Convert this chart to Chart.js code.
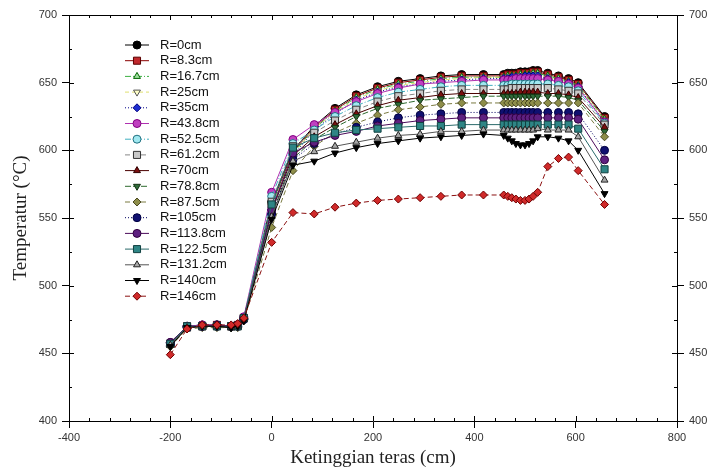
<!DOCTYPE html>
<html>
<head>
<meta charset="utf-8">
<script src="https://cdn.jsdelivr.net/npm/chart.js@4.4.0/dist/chart.umd.min.js"></script>
<style>
  html, body { margin: 0; padding: 0; background: #fff; }
  #wrap { width: 709px; height: 475px; }
</style>
</head>
<body>
<div id="wrap"><canvas id="chart"></canvas></div>
<script>
// core height (cm), shared by all series
const heights = [-200, -167, -137, -108, -80, -67, -55, 0, 42, 84, 125, 167, 209, 250, 293, 334, 375, 418,
  458, 466, 474, 482, 491, 500, 508, 516, 525, 545, 566, 586, 605, 657];

const radiusLabels = ['R=0cm', 'R=8.3cm', 'R=16.7cm', 'R=25cm', 'R=35cm', 'R=43.8cm', 'R=52.5cm', 'R=61.2cm',
  'R=70cm', 'R=78.8cm', 'R=87.5cm', 'R=105cm', 'R=113.8cm', 'R=122.5cm', 'R=131.2cm', 'R=140cm', 'R=146cm'];

// temperature (°C)
const r0 = [458, 470, 471, 471, 470, 471, 476, 562, 600, 618, 631, 641, 647, 651, 653, 655, 656, 656,
  656, 657, 657, 657, 658, 658, 658, 659, 659, 657, 655, 653, 650, 625];
const r8 = [457, 470, 470, 471, 470, 471, 476, 560, 599, 617, 630, 640, 646, 650, 652, 654, 655, 655,
  655, 656, 656, 656, 657, 657, 657, 658, 658, 656, 654, 652, 649, 624];
const r16 = [457, 469, 470, 470, 470, 470, 475, 558, 598, 616, 629, 639, 645, 649, 651, 653, 654, 654,
  654, 655, 655, 655, 656, 656, 656, 657, 657, 655, 653, 651, 648, 623];
const r25 = [456, 469, 470, 470, 469, 470, 475, 557, 597, 616, 628, 638, 644, 648, 650, 652, 653, 654,
  654, 654, 654, 655, 655, 655, 656, 656, 656, 654, 652, 650, 647, 622];
const r35 = [456, 469, 470, 470, 469, 470, 475, 556, 596, 615, 627, 637, 643, 647, 649, 651, 652, 653,
  653, 653, 654, 654, 654, 655, 655, 655, 655, 653, 651, 650, 647, 621];
const r43 = [458, 470, 471, 471, 470, 471, 477, 569, 608, 619, 628, 636, 642, 646, 649, 650, 651, 652,
  652, 652, 652, 653, 653, 653, 653, 653, 653, 652, 651, 649, 646, 621];
const r52 = [457, 470, 470, 471, 470, 471, 476, 566, 605, 615, 625, 633, 639, 643, 645, 647, 648, 648,
  648, 648, 649, 649, 649, 649, 649, 649, 649, 649, 648, 647, 644, 620];
const r61 = [457, 469, 470, 470, 470, 470, 476, 562, 603, 613, 622, 630, 636, 640, 642, 644, 645, 645,
  645, 645, 646, 646, 646, 646, 646, 646, 646, 646, 645, 644, 642, 619];
const r70 = [456, 469, 470, 470, 469, 470, 475, 555, 596, 610, 619, 627, 633, 637, 639, 641, 642, 642,
  642, 642, 642, 642, 643, 643, 643, 643, 643, 642, 642, 641, 639, 617];
const r78 = [456, 469, 470, 470, 469, 470, 475, 552, 594, 608, 617, 625, 631, 634, 637, 638, 639, 640,
  640, 640, 640, 640, 640, 640, 640, 640, 640, 640, 640, 639, 637, 614];
const r87 = [455, 468, 469, 469, 469, 469, 474, 543, 585, 603, 613, 620, 626, 630, 632, 634, 635, 635,
  635, 635, 635, 635, 635, 635, 635, 635, 635, 635, 635, 635, 635, 610];
const r105 = [457, 469, 470, 470, 470, 470, 475, 553, 593, 605, 612, 617, 621, 624, 626, 627, 628, 628,
  628, 628, 628, 628, 628, 628, 628, 628, 628, 628, 628, 628, 627, 600];
const r113 = [458, 470, 470, 471, 470, 471, 476, 556, 598, 606, 611, 614, 618, 620, 622, 623, 624, 624,
  624, 624, 624, 624, 624, 624, 624, 624, 624, 624, 624, 624, 623, 593];
const r122 = [457, 470, 470, 470, 470, 470, 476, 560, 602, 609, 613, 615, 616, 617, 618, 618, 619, 619,
  619, 619, 619, 619, 619, 619, 619, 619, 619, 619, 619, 619, 616, 586];
const r131 = [456, 469, 470, 470, 469, 470, 475, 551, 592, 599, 603, 606, 609, 611, 612, 614, 614, 615,
  615, 615, 615, 615, 615, 615, 615, 615, 616, 615, 615, 615, 610, 578];
const r140 = [455, 469, 470, 470, 469, 470, 474, 549, 589, 592, 598, 602, 605, 607, 609, 610, 611, 612,
  611, 609, 607, 605, 604, 604, 605, 607, 610, 610, 609, 607, 600, 568];
const r146 = [449, 468, 471, 471, 471, 472, 476, 532, 554, 553, 558, 561, 563, 564, 565, 566, 567, 567,
  567, 566, 565, 564, 563, 563, 564, 566, 569, 588, 594, 595, 585, 560];

const seriesValues = [r0, r8, r16, r25, r35, r43, r52, r61, r70, r78, r87, r105, r113, r122, r131, r140, r146];

// line colour, dash, marker fill, marker edge, marker shape, rotation
const styles = [
  ['#000000', [], '#000000', '#000000', 'circle', 0],
  ['#8b0000', [], '#c0282c', '#5a0000', 'rect', 0],
  ['#3cb043', [6, 2, 1, 2], '#9fe09f', '#006400', 'triangle', 0],
  ['#e0e070', [4, 3], '#ffffc8', '#555555', 'triangle', 180],
  ['#00008b', [1, 2], '#1e2ed0', '#000080', 'rectRot', 0],
  ['#b030b0', [], '#c040c0', '#800080', 'circle', 0],
  ['#40b0c0', [6, 2, 1, 2], '#a0e8f0', '#207080', 'circle', 0],
  ['#888888', [5, 3], '#c8c8c8', '#333333', 'rect', 0],
  ['#4a0000', [], '#7a1010', '#300000', 'triangle', 0],
  ['#2e6b2e', [6, 2], '#2f6b3a', '#103010', 'triangle', 180],
  ['#7a7a40', [5, 3], '#8e8e4a', '#4a4a20', 'rectRot', 0],
  ['#000060', [1, 2], '#101070', '#000040', 'circle', 0],
  ['#4b0b5b', [], '#5e2080', '#300040', 'circle', 0],
  ['#2a6a6a', [], '#2e8585', '#104040', 'rect', 0],
  ['#555555', [], '#a8a8a8', '#222222', 'triangle', 0],
  ['#000000', [], '#000000', '#000000', 'triangle', 180],
  ['#8b1010', [5, 3], '#d02a2a', '#700000', 'rectRot', 0]
];

const datasets = seriesValues.map((vals, i) => {
  const s = styles[i];
  return {
    label: radiusLabels[i],
    data: heights.map((h, j) => ({ x: h, y: vals[j] })),
    order: seriesValues.length - i,
    showLine: true,
    borderColor: s[0],
    borderWidth: 1,
    borderDash: s[1],
    pointBackgroundColor: s[2],
    pointBorderColor: s[3],
    pointBorderWidth: 1,
    pointStyle: s[4],
    pointRotation: s[5],
    pointRadius: s[4] === 'rect' ? 5 : 4
  };
});

// legend drawn inside the plot, line sample + marker + text
const legendBox = {
  id: 'legendBox',
  afterDatasetsDraw(chart) {
    const ctx = chart.ctx;
    const area = chart.chartArea;
    ctx.save();
    chart.data.datasets.forEach((ds, i) => {
      const y = area.top + 30 + i * 15.7;
      const x0 = area.left + 56;
      ctx.strokeStyle = ds.borderColor;
      ctx.lineWidth = 1;
      ctx.setLineDash(ds.borderDash);
      ctx.beginPath();
      ctx.moveTo(x0, y);
      ctx.lineTo(x0 + 24, y);
      ctx.stroke();
      ctx.setLineDash([]);
      ctx.fillStyle = ds.pointBackgroundColor;
      ctx.strokeStyle = ds.pointBorderColor;
      Chart.helpers.drawPoint(ctx, {
        pointStyle: ds.pointStyle, radius: ds.pointRadius, rotation: ds.pointRotation, borderWidth: 1
      }, x0 + 12, y);
      ctx.fillStyle = '#111';
      ctx.font = '13px "Liberation Sans", Arial, sans-serif';
      ctx.textBaseline = 'middle';
      ctx.fillText(ds.label, x0 + 35, y);
    });
    ctx.restore();
  }
};

// inward ticks on all four sides
const xMinorStep = 40, yMinorStep = 25;
const innerTicks = {
  id: 'innerTicks',
  afterDraw(chart) {
    const { ctx, chartArea: a, scales } = chart;
    ctx.save();
    ctx.strokeStyle = '#000';
    ctx.lineWidth = 1;
    ctx.beginPath();
    for (let v = scales.x.min; v <= scales.x.max; v += xMinorStep) {
      const px = Math.round(scales.x.getPixelForValue(v)) + 0.5;
      const len = v % 200 === 0 ? 5 : 3;
      ctx.moveTo(px, a.bottom); ctx.lineTo(px, a.bottom - len);
      ctx.moveTo(px, a.top); ctx.lineTo(px, a.top + len);
    }
    for (let v = scales.y.min; v <= scales.y.max; v += yMinorStep) {
      const py = Math.round(scales.y.getPixelForValue(v)) + 0.5;
      const len = v % 50 === 0 ? 5 : 3;
      ctx.moveTo(a.left, py); ctx.lineTo(a.left + len, py);
      ctx.moveTo(a.right, py); ctx.lineTo(a.right - len, py);
    }
    ctx.stroke();
    ctx.restore();
  }
};

const tickFont = { family: '"Liberation Sans", Arial, sans-serif', size: 11 };
const titleFont = { family: '"Liberation Serif", "Times New Roman", serif', size: 19 };
const axisGrid = { drawOnChartArea: false, drawTicks: true, tickLength: 7, color: '#000', tickColor: '#000' };
const axisBorder = { display: true, color: '#000', width: 1 };

new Chart(document.getElementById('chart'), {
  type: 'scatter',
  data: { datasets: datasets },
  options: {
    responsive: true,
    maintainAspectRatio: false,
    animation: false,
    events: [],
    layout: { padding: 0 },
    plugins: { legend: { display: false }, tooltip: { enabled: false } },
    scales: {
      x: {
        type: 'linear', position: 'bottom', min: -400, max: 800,
        ticks: { stepSize: 200, font: tickFont, color: '#333', padding: 3, maxRotation: 0 },
        grid: axisGrid, border: axisBorder,
        title: { display: true, text: 'Ketinggian teras (cm)', font: titleFont, color: '#222', padding: { top: 2, bottom: 6 } },
        afterFit(s) { s.height = 54; }
      },
      xTop: {
        type: 'linear', position: 'top', min: -400, max: 800,
        ticks: { display: false, stepSize: 200 },
        grid: { drawOnChartArea: false, drawTicks: false }, border: axisBorder,
        afterFit(s) { s.height = 15; }
      },
      y: {
        type: 'linear', position: 'left', min: 400, max: 700,
        ticks: { stepSize: 50, font: tickFont, color: '#333', padding: 5 },
        grid: axisGrid, border: axisBorder,
        title: { display: true, text: 'Temperatur (°C)', font: titleFont, color: '#222', padding: { top: 10, bottom: 0 } },
        afterFit(s) { s.width = 69; }
      },
      yRight: {
        type: 'linear', position: 'right', min: 400, max: 700,
        ticks: { stepSize: 50, font: tickFont, color: '#333', padding: 5 },
        grid: axisGrid, border: axisBorder,
        afterFit(s) { s.width = 32; }
      }
    }
  },
  plugins: [legendBox, innerTicks]
});
</script>
</body>
</html>
